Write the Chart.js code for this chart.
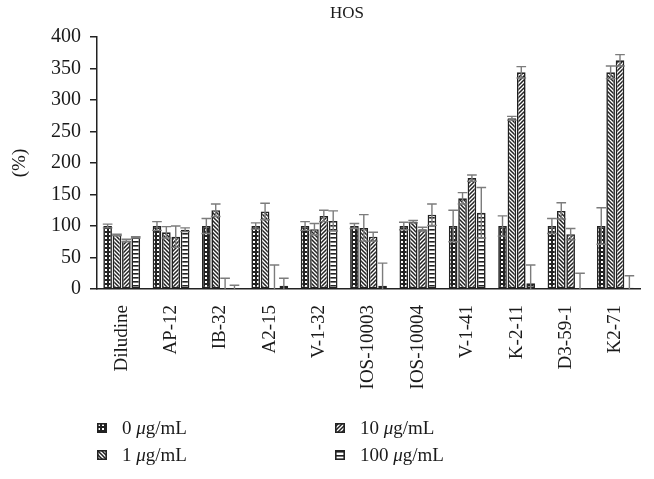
<!DOCTYPE html>
<html>
<head>
<meta charset="utf-8">
<script src="https://cdn.jsdelivr.net/npm/chart.js@4.4.1/dist/chart.umd.min.js"></script>
<style>
  body { margin: 0; background: #fff; }
  #wrap { position: relative; width: 654px; height: 479px; font-family: "Liberation Serif", "DejaVu Serif", serif; color: #1a1a1a; }
  #title { position: absolute; left: 297px; width: 100px; top: 3px; text-align: center; font-size: 17px; }
  .leg { position: absolute; font-size: 19px; line-height: 22px; white-space: nowrap; }
  .leg canvas { position: absolute; left: 0; top: 6px; }
  .leg span { position: absolute; left: 25px; top: 0; }
</style>
</head>
<body>
<div id="wrap">
  <canvas id="chart" width="654" height="479"></canvas>
  <div id="title">HOS</div>
  <div class="leg" style="left:97px;top:417px"><canvas id="sw0" width="10" height="10"></canvas><span>0 <i>μ</i>g/mL</span></div>
  <div class="leg" style="left:335px;top:417px"><canvas id="sw2" width="10" height="10"></canvas><span>10 <i>μ</i>g/mL</span></div>
  <div class="leg" style="left:97px;top:444px"><canvas id="sw1" width="10" height="10"></canvas><span>1 <i>μ</i>g/mL</span></div>
  <div class="leg" style="left:335px;top:444px"><canvas id="sw3" width="10" height="10"></canvas><span>100 <i>μ</i>g/mL</span></div>
</div>
<script>
// data
const categories = ['Diludine', 'AP-12', 'IB-32', 'A2-15', 'V-1-32', 'IOS-10003', 'IOS-10004', 'V-1-41', 'K-2-11', 'D3-59-1', 'K2-71'];
const seriesNames = ['0 μg/mL', '1 μg/mL', '10 μg/mL', '100 μg/mL'];
const conc0 = [100, 100, 100, 100, 100, 100, 100, 100, 100, 100, 100];
const err0 = [3, 7, 12, 5, 7, 4, 6, 25, 16, 12, 29];
const conc1 = [86, 90, 125, 123, 95, 97, 107, 144, 271, 124, 344];
const err1 = [1, 9, 10, 13, 9, 21, 2, 9, 3, 13, 10];
const conc10 = [77, 83, 0, 1, 116, 83, 95, 176, 344, 87, 363];
const err10 = [2, 17, 17, 37, 9, 7, 3, 5, 9, 9, 9];
const conc100 = [82, 94, 0, 5, 108, 5, 118, 121, 9, 0, 2];
const err100 = [1, 3, 6, 12, 16, 36, 17, 40, 29, 25, 19];
const yTicks = [0, 50, 100, 150, 200, 250, 300, 350, 400];

const INK = '#222';

// --- fill patterns ---
function makePattern(kind) {
    const c = document.createElement('canvas');
    c.width = 4; c.height = 4;
    const g = c.getContext('2d');
    g.fillStyle = '#fff';
    g.fillRect(0, 0, 4, 4);
    g.fillStyle = INK;
    g.strokeStyle = INK;
    g.lineWidth = 1.5;
    if (kind === 'checker') {
        g.fillRect(0, 0, 4, 4);
        g.fillStyle = '#fff';
        g.fillRect(1, 1, 2, 2);
    } else if (kind === 'back') {
        g.beginPath();
        g.moveTo(-1, -1); g.lineTo(5, 5);
        g.moveTo(-1, 3); g.lineTo(1, 5);
        g.moveTo(3, -1); g.lineTo(5, 1);
        g.stroke();
    } else if (kind === 'fwd') {
        g.beginPath();
        g.moveTo(-1, 5); g.lineTo(5, -1);
        g.moveTo(-1, 1); g.lineTo(1, -1);
        g.moveTo(3, 5); g.lineTo(5, 3);
        g.stroke();
    } else {
        g.fillRect(0, 1, 4, 1.6);
    }
    return g.createPattern(c, 'repeat');
}
const kinds = ['checker', 'back', 'fwd', 'horiz'];
const patterns = kinds.map(makePattern);

// legend swatches
kinds.forEach((k, i) => {
    const g = document.getElementById('sw' + i).getContext('2d');
    g.fillStyle = patterns[i];
    g.fillRect(0, 0, 10, 10);
    g.strokeStyle = INK;
    g.lineWidth = 1.6;
    g.strokeRect(0.8, 0.8, 8.4, 8.4);
});

// --- error bars ---
const errorBars = {
    id: 'errorBars',
    afterDatasetsDraw(chart) {
        const ctx = chart.ctx, y = chart.scales.y, a = chart.chartArea;
        ctx.save();
        ctx.beginPath();
        ctx.rect(a.left, a.top - 20, a.right - a.left, a.bottom - a.top + 20);
        ctx.clip();
        ctx.strokeStyle = '#7c7c7c';
        ctx.lineWidth = 1.4;
        chart.data.datasets.forEach((ds, i) => {
            chart.getDatasetMeta(i).data.forEach((bar, j) => {
                const v = ds.data[j], e = ds.errors[j];
                const top = y.getPixelForValue(v + e), bot = y.getPixelForValue(v - e);
                const w = bar.width / 2 + 0.5;
                ctx.beginPath();
                ctx.moveTo(bar.x, top); ctx.lineTo(bar.x, bot);
                ctx.moveTo(bar.x - w, top); ctx.lineTo(bar.x + w, top);
                ctx.moveTo(bar.x - w, bot); ctx.lineTo(bar.x + w, bot);
                ctx.stroke();
            });
        });
        ctx.restore();
    }
};

const values = [conc0, conc1, conc10, conc100];
const errors = [err0, err1, err10, err100];

new Chart(document.getElementById('chart'), {
    type: 'bar',
    data: {
        labels: categories,
        datasets: seriesNames.map((name, i) => ({
            label: name,
            data: values[i],
            errors: errors[i],
            backgroundColor: patterns[i],
            borderColor: INK,
            borderWidth: 1.6,
            borderSkipped: false,
            categoryPercentage: 0.76,
            barPercentage: 0.92
        }))
    },
    options: {
        responsive: false,
        animation: false,
        layout: { padding: { top: 37, left: 0, right: 14, bottom: 0 } },
        plugins: { legend: { display: false }, tooltip: { enabled: false } },
        scales: {
            x: {
                grid: { display: false },
                border: { display: true, color: INK, width: 1.5 },
                ticks: {
                    color: '#1a1a1a', autoSkip: false, maxRotation: 90, minRotation: 90, padding: 8,
                    font: { family: 'Liberation Serif', size: 19 }
                },
                afterFit: s => { s.height = 190; }
            },
            y: {
                min: 0, max: 400,
                afterBuildTicks: s => { s.ticks = yTicks.map(v => ({ value: v })); },
                grid: { drawOnChartArea: false, color: INK, tickLength: 7, lineWidth: 1.5 },
                border: { display: true, color: INK, width: 1.5 },
                ticks: { color: '#1a1a1a', padding: 9, font: { family: 'Liberation Serif', size: 20 } },
                title: { display: true, text: '(%)', color: '#1a1a1a', padding: { top: 9, bottom: 0 }, font: { family: 'Liberation Serif', size: 19 } },
                afterFit: s => { s.width = 97; }
            }
        }
    },
    plugins: [errorBars]
});
</script>
</body>
</html>
